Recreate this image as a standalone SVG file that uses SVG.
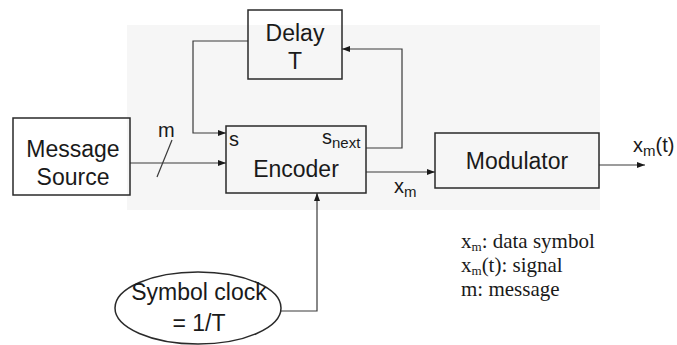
<svg xmlns="http://www.w3.org/2000/svg" width="677" height="345" viewBox="0 0 677 345">
<style>
.box{fill:none;stroke:#2a2a2a;stroke-width:1.5}
.ln{fill:none;stroke:#3a3a3a;stroke-width:1.2}
.t{font-family:"Liberation Sans",Arial,sans-serif;font-size:23px;fill:#1a1a1a}
.l{font-family:"Liberation Sans",Arial,sans-serif;font-size:20px;fill:#1a1a1a}
.sub{font-size:15px}
.lsub{font-size:13px}
.lg{font-family:"Liberation Serif","Times New Roman",serif;font-size:21px;fill:#1a1a1a}
</style>
<defs>
<marker id="ah" markerWidth="8" markerHeight="6" refX="8" refY="3" orient="auto" markerUnits="userSpaceOnUse">
<path d="M0,0 L8,3 L0,6 Z" fill="#1a1a1a"/>
</marker>
</defs>
<rect x="127" y="25" width="473" height="185" fill="#f6f6f6"/>
<g id="connectors">
<path class="ln" d="M130,163 H226" marker-end="url(#ah)"/>
<path class="ln" d="M172,140 L157,177"/>
<path class="ln" d="M248,41 H193 V133 H226" marker-end="url(#ah)"/>
<path class="ln" d="M366,148 H402 V49 H342" marker-end="url(#ah)"/>
<path class="ln" d="M366,172 H435" marker-end="url(#ah)"/>
<path class="ln" d="M599,165 H645" marker-end="url(#ah)"/>
<path class="ln" d="M280,311 H317 V193" marker-end="url(#ah)"/>
</g>
<g id="delay">
<rect class="box" x="248" y="10" width="94" height="69" fill="#fff"/>
<text class="t" x="295" y="41" text-anchor="middle">Delay</text>
<text class="t" x="295" y="69" text-anchor="middle">T</text>
</g>
<g id="source">
<rect class="box" x="13" y="118" width="117" height="77" fill="#fff"/>
<text class="t" x="73" y="157" text-anchor="middle">Message</text>
<text class="t" x="73" y="185" text-anchor="middle">Source</text>
</g>
<g id="encoder">
<rect class="box" x="226" y="126" width="140" height="67" fill="#fff"/>
<text class="t" x="296" y="177" text-anchor="middle">Encoder</text>
<text class="l" x="229" y="146">s</text>
<text class="l" x="322" y="144">s<tspan class="sub" dy="4">next</tspan></text>
</g>
<g id="modulator">
<rect class="box" x="435" y="133" width="164" height="55" fill="#fff"/>
<text class="t" x="517" y="169" text-anchor="middle">Modulator</text>
</g>
<g id="clock">
<ellipse class="box" cx="198" cy="308" rx="83" ry="36" fill="#fff"/>
<text class="t" x="199" y="300" text-anchor="middle">Symbol clock</text>
<text class="t" x="199" y="331" text-anchor="middle">= 1/T</text>
</g>
<g id="labels">
<text class="l" x="158" y="137">m</text>
<text class="l" x="394" y="193">x<tspan class="sub" dy="4">m</tspan></text>
<text class="l" x="633" y="152">x<tspan class="sub" dy="4">m</tspan><tspan dy="-4">(t)</tspan></text>
</g>
<g id="legend">
<text class="lg" x="461" y="248">x<tspan class="lsub" dy="3">m</tspan><tspan dy="-3">: data symbol</tspan></text>
<text class="lg" x="461" y="272">x<tspan class="lsub" dy="3">m</tspan><tspan dy="-3">(t): signal</tspan></text>
<text class="lg" x="461" y="296">m: message</text>
</g>
</svg>
